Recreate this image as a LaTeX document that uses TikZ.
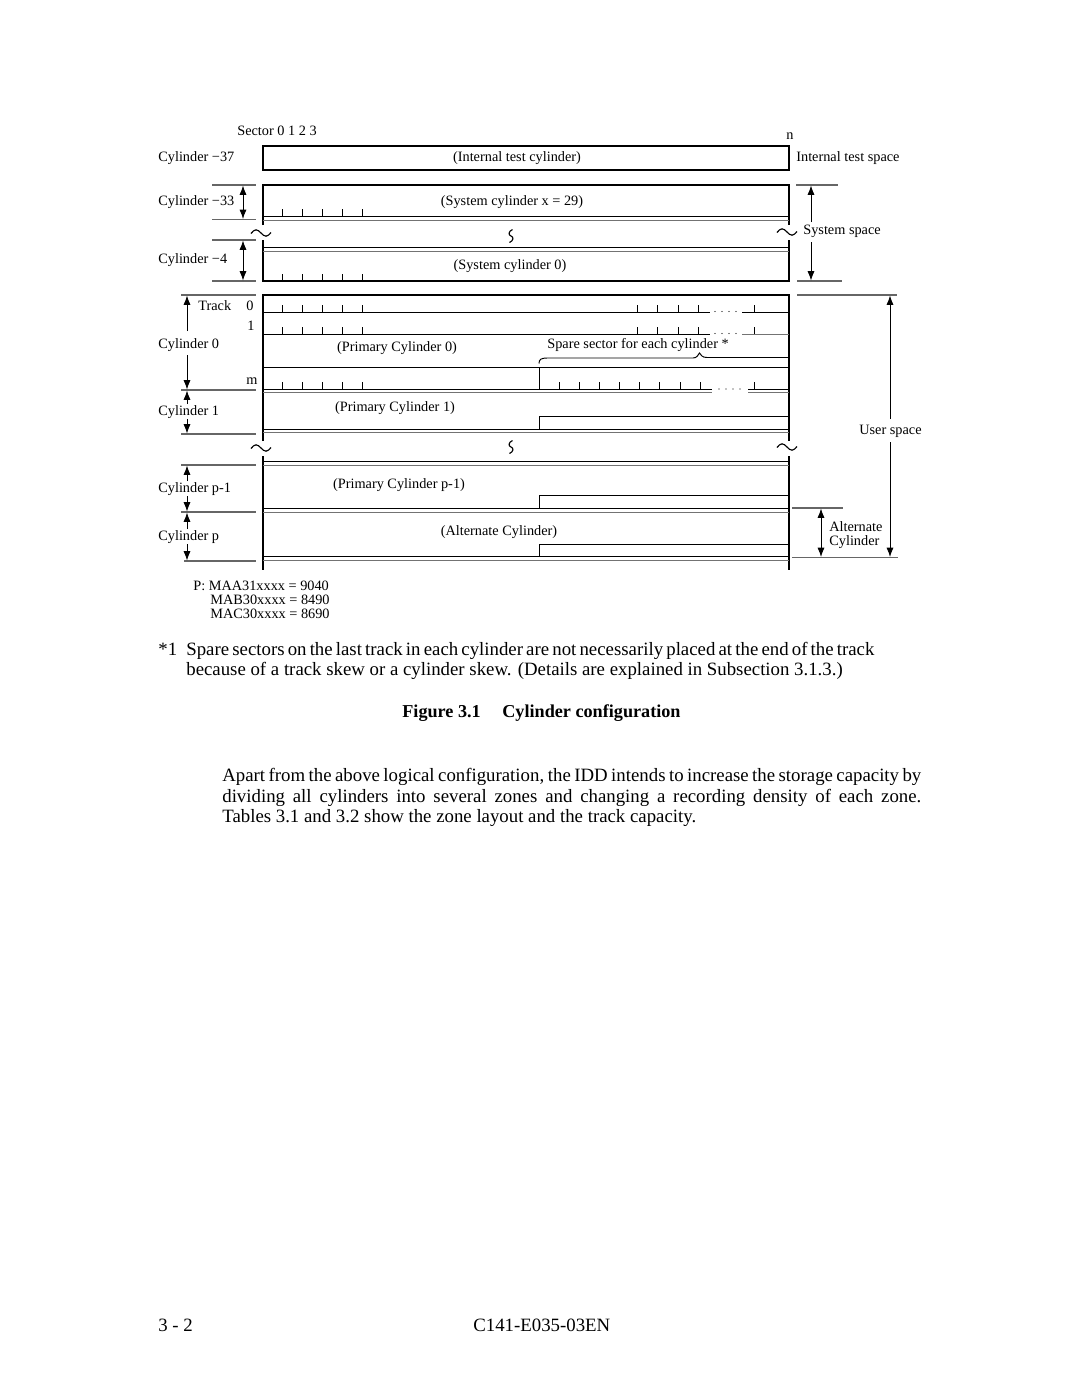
\documentclass[tikz,border=0pt]{standalone}
\usepackage{fontspec}
\setmainfont{Liberation Serif}
\usetikzlibrary{arrows.meta}
\newcommand\brktilde[2]{\draw[brk] (#1-10,#2+0.5) sin (#1-5,#2-3.2) cos (#1,#2) sin (#1+5,#2+3.2) cos (#1+10,#2-0.5);}
\newcommand\brkwave[2]{\draw[brk] (#1+1.5,#2-6.5) .. controls (#1-2.8,#2-4.5) and (#1-2.8,#2-1) .. (#1,#2) .. controls (#1+2.8,#2+1) and (#1+2.8,#2+4.5) .. (#1-1.5,#2+6.5);}
\begin{document}
\begin{tikzpicture}[x=0.5667pt,y=-0.5667pt,
  frame/.style={line width=1.1pt},
  thin/.style={line width=0.55pt},
  thingr/.style={line width=0.55pt, black!55},
  dimline/.style={line width=0.6pt, black!60},
  ah/.style={line width=0.5pt,-{Latex[length=5.3pt,width=4pt]}},
  dah/.style={line width=0.5pt,{Latex[length=5.3pt,width=4pt]}-{Latex[length=5.3pt,width=4pt]}},
  lbl/.style={font=\fontsize{8.1}{9}\selectfont, inner sep=0pt, anchor=base west},
  lblc/.style={lbl, anchor=base},
  body/.style={font=\fontsize{10.66}{12}\selectfont, inner sep=0pt, anchor=base west},
  capf/.style={body, font=\fontsize{10.3}{12}\selectfont\bfseries},
  brk/.style={line width=0.65pt}
]
\fill[white] (0,0) rectangle (1080,1397);
\path[use as bounding box] (0,0) rectangle (1080,1397);

% ---------- internal test cylinder ----------
\draw[frame] (263,146) rectangle (789,170);

% ---------- system cylinders ----------
\draw[frame] (263,225) -- (263,185) -- (789,185) -- (789,225);
\draw[frame] (263,240) -- (263,281) -- (789,281) -- (789,240);
\draw[thin] (263,216.5) -- (789,216.5);
\draw[thingr] (263,220) -- (789,220);
\draw[thin] (263,247) -- (789,247);
\draw[thingr] (263,251) -- (789,251);
\brktilde{261}{233}
\brktilde{787}{232}
\brkwave{511}{236}

% ---------- user space frame ----------
\draw[frame] (263,441) -- (263,295) -- (789,295) -- (789,441);
\draw[frame] (263,456) -- (263,570);
\draw[frame] (789,456) -- (789,570);
\brktilde{261}{448}
\brktilde{787}{447}
\brkwave{511}{447}

% tracks 0 and 1
\draw[thin] (263,312) -- (710,312);
\draw[thin] (742,312) -- (789,312);
\draw[thin] (263,334) -- (710,334);
\draw[thingr] (742,334) -- (789,334);
\foreach \d in {715,722,729,736} {
  \fill (\d,311.5) circle (0.35pt);
  \fill (\d,333.5) circle (0.35pt);
}
\foreach \d in {719,726,733,740} { \fill (\d,389) circle (0.35pt); }
\draw[thin] (263,367) -- (789,367);
% track m
\draw[thin] (263,389) -- (712,389);
\draw[thin] (748,389) -- (789,389);
\draw[thingr] (263,392) -- (712,392);
\draw[thingr] (748,392) -- (789,392);
\draw[thin] (539,367) -- (539,389);

% ticks
\foreach \x in {282,302,322,342,362} {
  \draw[thin] (\x,216.5) -- (\x,209);
  \draw[thin] (\x,281) -- (\x,273.5);
  \draw[thin] (\x,312) -- (\x,305);
  \draw[thin] (\x,334) -- (\x,327);
  \draw[thin] (\x,389) -- (\x,382);
}
\foreach \x in {637,657,678,698,754} {
  \draw[thin] (\x,312) -- (\x,305);
  \draw[thin] (\x,334) -- (\x,327);
}
\foreach \x in {559,579,599,619,639,659,680,700,754} {
  \draw[thin] (\x,389) -- (\x,382);
}

% spare sector brace
\draw[thin] (539,363.5) .. controls (539,359.5) and (541,358) .. (547,358)
  -- (693,358) .. controls (697,358) and (698,355) .. (699.5,353)
  .. controls (701,355) and (702,357.5) .. (707,357.5) -- (789,357.5);

% cylinder 1
\draw[thin] (263,429.5) -- (789,429.5);
\draw[thingr] (263,432.5) -- (789,432.5);
\draw[thin] (539,429.5) -- (539,416.7) -- (789,416.7);
% after break
\draw[thin] (263,461.5) -- (789,461.5);
\draw[thingr] (263,465) -- (789,465);
% cylinder p-1
\draw[thin] (539,508.3) -- (539,495) -- (789,495);
\draw[thin] (263,508.3) -- (789,508.3);
\draw[thingr] (263,512.3) -- (789,512.3);
% cylinder p
\draw[thin] (539,556.7) -- (539,544) -- (789,544);
\draw[thin] (263,556.7) -- (789,556.7);
\draw[thingr] (263,560) -- (789,560);

% ---------- left dimension lines ----------
\draw[dimline] (212,185) -- (256,185);
\draw[dimline] (212,219.5) -- (256,219.5);
\draw[dimline] (212,240) -- (256,240);
\draw[dimline] (212,281) -- (256,281);
\draw[dah] (243,185.5) -- (243,219);
\draw[dah] (243,240.5) -- (243,280.5);

\draw[dimline] (181,295) -- (256,295);
\draw[dimline] (181,390) -- (256,390);
\draw[dimline] (181,434) -- (256,434);
\draw[dimline] (181,465) -- (256,465);
\draw[dimline] (181,512) -- (256,512);
\draw[dimline] (184,561) -- (256,561);
\draw[ah] (187,331) -- (187,295.5);
\draw[ah] (187,355) -- (187,389.5);
\draw[ah] (187,404) -- (187,390.5);
\draw[ah] (187,419) -- (187,433.5);
\draw[ah] (187,481) -- (187,465.5);
\draw[ah] (187,496) -- (187,511.5);
\draw[ah] (187,529) -- (187,512.5);
\draw[ah] (187,544) -- (187,560.5);

% ---------- right dimension lines ----------
\draw[dimline] (796,185) -- (838,185);
\draw[dimline] (797,281) -- (842,281);
\draw[ah] (811,222) -- (811,185.5);
\draw[ah] (811,242) -- (811,280.5);
\draw[dimline] (797,295) -- (897,295);
\draw[dimline] (792,557.5) -- (898,557.5);
\draw[dimline] (792,508) -- (843,508);
\draw[ah] (890,419) -- (890,295.5);
\draw[ah] (890,442) -- (890,557);
\draw[dah] (821,508.5) -- (821,557);

% ---------- labels ----------
\node[lbl] (sec) at (237,135) {Sector 0 1 2 3};
\node[lbl] (nn) at (786,139) {n};
\node[lbl] (c37) at (158,161) {Cylinder −37};
\node[lblc] (itc) at (517,161) {(Internal test cylinder)};
\node[lbl] (its) at (796,161) {Internal test space};
\node[lbl] (c33) at (158,205) {Cylinder −33};
\node[lblc] (scx) at (512,205) {(System cylinder x = 29)};
\node[lbl] (ss) at (803,234) {System space};
\node[lbl] (c4) at (158,263) {Cylinder −4};
\node[lblc] (sc0) at (510,269) {(System cylinder 0)};
\node[lbl] (trk) at (198,310) {Track};
\node[lbl] (t0) at (246,310) {0};
\node[lbl] (t1) at (247,330) {1};
\node[lbl] (c0) at (158,348) {Cylinder 0};
\node[lbl] (tm) at (246,384) {m};
\node[lblc] (pc0) at (397,351) {(Primary Cylinder 0)};
\node[lbl] (spare) at (547,348) {Spare sector for each cylinder *};
\node[lblc] (pc1) at (395,411) {(Primary Cylinder 1)};
\node[lbl] (c1) at (158,415) {Cylinder 1};
\node[lbl] (us) at (859,434) {User space};
\node[lblc] (pcp1) at (399,488) {(Primary Cylinder p-1)};
\node[lbl] (cp1) at (158,492) {Cylinder p-1};
\node[lblc] (ac) at (499,535) {(Alternate Cylinder)};
\node[lbl] (cp) at (158,540) {Cylinder p};
\node[lbl] (alt1) at (829,531) {Alternate};
\node[lbl] (alt2) at (829,545) {Cylinder};
\node[lbl] (pm1) at (193,590) {P: MAA31xxxx = 9040};
\node[lbl] (pm2) at (210,604) {MAB30xxxx = 8490};
\node[lbl] (pm3) at (210,618) {MAC30xxxx = 8690};

% ---------- body text ----------
\node[body] (fn1) at (158,655) {*1};
\node[body] (fn2) at (186,655) {\makebox[389.9pt][s]{Spare sectors on the last track in each cylinder are not necessarily placed at the end of the track}};
\node[body] (fn3) at (186,675) {because of a track skew or a cylinder skew. (Details are explained in Subsection 3.1.3.)};
\node[capf] (cap1) at (402,717) {Figure 3.1};
\node[capf] (cap2) at (502,717) {Cylinder configuration};
\node[body] (p1) at (222,781) {\makebox[396.1pt][s]{Apart from the above logical configuration, the IDD intends to increase the storage capacity by}};
\node[body] (p2) at (222,802) {\makebox[396.1pt][s]{dividing all cylinders into several zones and changing a recording density of each zone.}};
\node[body] (p3) at (222,822) {Tables 3.1 and 3.2 show the zone layout and the track capacity.};
\node[body] (f1) at (158,1331) {3 - 2};
\node[body] (f2) at (473,1331) {C141-E035-03EN};
\end{tikzpicture}
\end{document}
